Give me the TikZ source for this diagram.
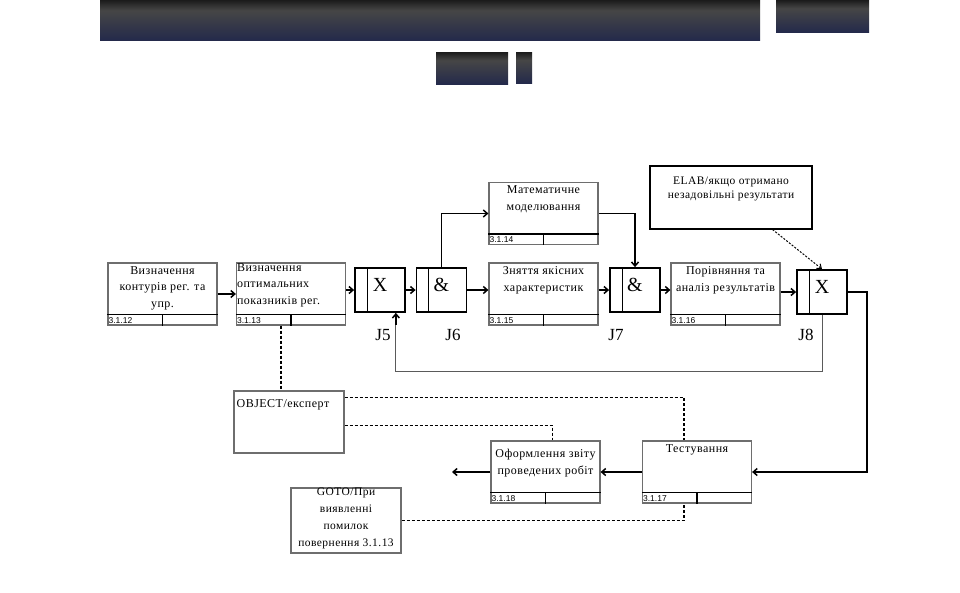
\documentclass[tikz,border=0pt]{standalone}
\usepackage{fontspec}
\setmainfont{Liberation Serif}
\newfontfamily\idfont{Liberation Sans}
\usetikzlibrary{arrows.meta,positioning,calc}
\definecolor{ink}{HTML}{000000}
\definecolor{frame}{HTML}{6E6E6E}
\definecolor{loop}{HTML}{5A5A5A}
\definecolor{bartop}{HTML}{1B1B1B}
\definecolor{barmid}{HTML}{464646}
\definecolor{barbot}{HTML}{242A4B}
\pgfdeclareverticalshading{titlebar}{100bp}{color(0bp)=(barbot);color(25bp)=(barbot);color(62bp)=(barmid);color(75bp)=(bartop);color(100bp)=(bartop)}
\tikzset{
  uob/.style={draw=frame,line width=1.2pt,fill=white,minimum width=109pt,minimum height=62pt,inner sep=0pt},
  uobtext/.style={font=\fontsize{12}{16.5}\selectfont\addfontfeature{LetterSpace=4},align=center,inner sep=0pt,anchor=north},
  idtext/.style={font=\idfont\fontsize{8.5}{9}\selectfont,inner sep=0pt,anchor=west},
  strip/.style={draw=ink,line width=1.3pt},
  junc/.style={draw=ink,line width=1.8pt,fill=white,minimum width=50pt,minimum height=44pt,inner sep=0pt},
  jsign/.style={font=\fontsize{20}{20}\selectfont,inner sep=0pt},
  jlabel/.style={font=\fontsize{17}{17}\selectfont,inner sep=0pt},
  note/.style={draw=ink,line width=1.1pt,fill=white,inner sep=0pt},
  flow/.style={-{Straight Barb[length=4pt,width=7pt]},draw=ink,line width=1.5pt},
  back/.style={draw=loop,line width=1pt},
  link/.style={draw=ink,line width=1.7pt,dash pattern=on 3pt off 2pt},
  hint/.style={-{Straight Barb[length=4pt,width=6pt]},draw=ink,line width=1pt,dash pattern=on 2pt off 1.5pt}
}
\begin{document}
\begin{tikzpicture}[x=1pt,y=-1pt]
\useasboundingbox (0,0) rectangle (960,592);
% title bars
\shade[shading=titlebar] (100,0) rectangle (760,40);
\shade[shading=titlebar] (776,0) rectangle (869,32);
\shade[shading=titlebar] (436,52) rectangle (508,84);
\shade[shading=titlebar] (516,52) rectangle (532,83);

% units of work
\node[uob] (b12) at (162.5,294) {};
\node[uob] (b13) at (291,294) {};
\node[uob] (b14) at (543.5,213.5) {};
\node[uob] (b15) at (543.5,294) {};
\node[uob] (b16) at (725.5,294) {};
\node[uob] (b17) at (697,472) {};
\node[uob] (b18) at (545.5,472) {};
\foreach \b/\id in {b12/3.1.12,b13/3.1.13,b14/3.1.14,b15/3.1.15,b16/3.1.16,b17/3.1.17,b18/3.1.18}{
  \draw[strip] ($(\b.south west)+(0,-11)$) -- ($(\b.south east)+(0,-11)$);
  \draw[strip] ($(\b.south west)+(55,-11)$) -- ($(\b.south west)+(55,0)$);
  \node[idtext] (\b id) at ($(\b.south west)+(1,-5.5)$) {\id};
}
\node[uobtext] (b12t) at ($(b12.north)+(0,4)$) {Визначення\\контурів рег. та\\упр.};
\node[uobtext,anchor=north west,align=left] (b13t) at ($(b13.north west)+(1,1)$) {Визначення\\оптимальних\\показників рег.};
\node[uobtext] (b14t) at ($(b14.north)+(0,4)$) {Математичне\\моделювання};
\node[uobtext] (b15t) at ($(b15.north)+(0,4)$) {Зняття якісних\\характеристик};
\node[uobtext] (b16t) at ($(b16.north)+(0,4)$) {Порівняння та\\аналіз результатів};
\node[uobtext] (b17t) at ($(b17.north)+(0,4)$) {Тестування};
\node[uobtext] (b18t) at ($(b18.north)+(0,9)$) {Оформлення звіту\\проведених робіт};

% junctions
\node[junc] (j5) at (380,290) {};
\node[junc] (j6) at (441.5,290) {};
\node[junc] (j7) at (635,290) {};
\node[junc] (j8) at (822,292) {};
\foreach \j/\s in {j5/X,j6/\&,j7/\&,j8/X}{
  \draw[ink,line width=1pt] ($(\j.north west)+(13,0)$) -- ($(\j.south west)+(13,0)$);
  \node[jsign] (\j s) at ($(\j.center)+(0,-5)$) {\s};
}
\node[jlabel] (j5l) at (383,335) {J5};
\node[jlabel] (j6l) at (453,335) {J6};
\node[jlabel] (j7l) at (616,335) {J7};
\node[jlabel] (j8l) at (806,335) {J8};

% referents
\node[note,minimum width=162pt,minimum height=63pt] (elab) at (731,197.5) {};
\node[uobtext,font=\fontsize{11.5}{14}\selectfont\addfontfeature{LetterSpace=4}] (elabt) at ($(elab.north)+(0,11)$) {ELAB/якщо отримано\\незадовільні результати};
\node[note,draw=frame,minimum width=110pt,minimum height=62pt] (obj) at (289,422) {};
\node[uobtext,anchor=north west] (objt) at ($(obj.north west)+(3,9)$) {OBJECT/експерт};
\node[note,draw=frame,minimum width=110pt,minimum height=65pt] (goto) at (346,520.5) {};
\node[uobtext,font=\fontsize{11.5}{17}\selectfont\addfontfeature{LetterSpace=4}] (gotot) at ($(goto.north)+(0,0)$) {GOTO/При\\виявленні\\помилок\\повернення 3.1.13};

% flow
\draw[flow] (b12.east) -- (b13.west);
\draw[flow] (b13.east |- j5.west) -- (j5.west);
\draw[flow] (j5.east) -- (j6.west);
\draw[flow] (j6.north) |- (b14.west);
\draw[flow] (j6.east) -- (j6.east -| b15.west);
\draw[flow] (b14.east) -| (j7.north);
\draw[flow] (j7.west -| b15.east) -- (j7.west);
\draw[flow] (j7.east) -- (j7.east -| b16.west);
\draw[flow] (b16.east |- j8.west) -- (j8.west);
\draw[hint] ($(elab.south east)+(-40,0)$) -- (j8.north);
\draw[back] (j8.south) -- ++(0,57) -| ($(j5.south east)+(-10,0)$);
\draw[flow] ($(j5.south east)+(-10,12)$) -- ($(j5.south east)+(-10,0)$);
\draw[flow] (j8.east) -- ++(19,0) |- (b17.east);
\draw[flow] (b17.west) -- (b18.east);
\coordinate (out) at (452,472);
\draw[flow] (b18.west) -- (out);

% links
\draw[link] ($(b13.south west)+(45,0)$) coordinate (m13) -- (m13 |- obj.north);
\draw[link] ($(obj.north east)+(0,7)$) -| ($(b17.north west)+(42,0)$);
\draw[link] ($(obj.north east)+(0,35)$) -| ($(b18.north west)+(62,0)$);
\draw[link] (goto.east) -| ($(b17.south west)+(42,0)$);
\end{tikzpicture}
\end{document}
